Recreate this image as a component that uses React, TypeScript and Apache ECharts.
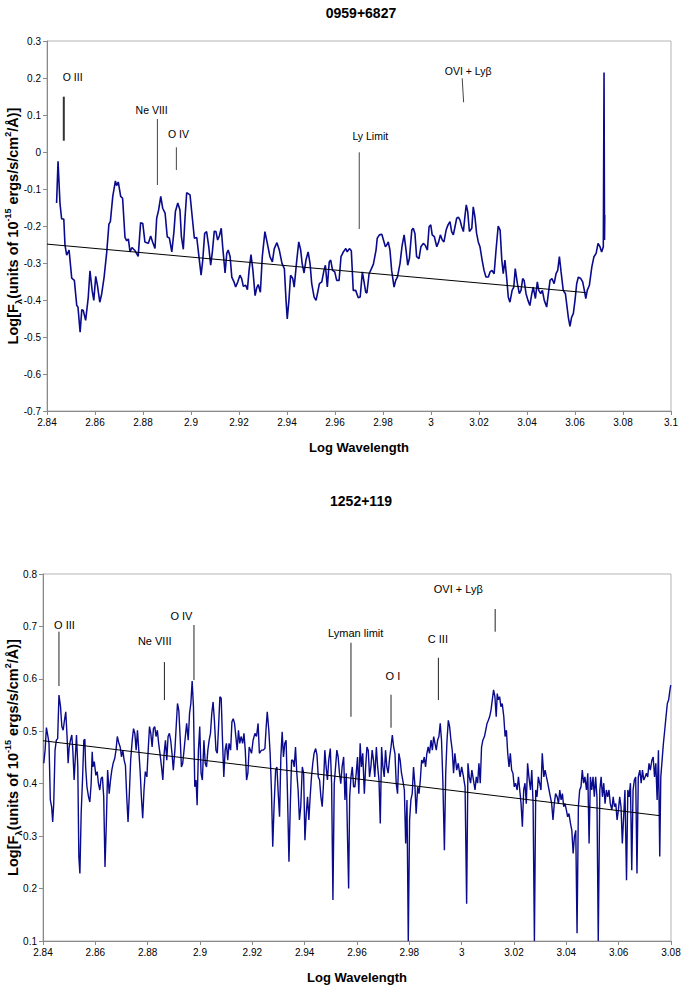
import React, { useEffect, useRef } from "react";
import * as echarts from "echarts";

// ---------- Top panel: 0959+6827 ----------
const topX = [2.8440,2.8446,2.8454,2.8461,2.8470,2.8475,2.8482,2.8492,2.8503,2.8514,2.8524,2.8529,2.8538,2.8545,2.8551,2.8561,2.8572,2.8579,2.8588,2.8595,2.8603,2.8610,2.8620,2.8628,2.8638,2.8649,2.8658,2.8664,2.8674,2.8685,2.8690,2.8697,2.8707,2.8715,2.8725,2.8732,2.8739,2.8746,2.8754,2.8767,2.8780,2.8790,2.8799,2.8808,2.8822,2.8832,2.8840,2.8850,2.8857,2.8865,2.8874,2.8882,2.8892,2.8901,2.8910,2.8920,2.8929,2.8935,2.8945,2.8954,2.8960,2.8968,2.8975,2.8982,2.8996,2.9005,2.9014,2.9024,2.9030,2.9042,2.9049,2.9057,2.9065,2.9074,2.9082,2.9089,2.9097,2.9104,2.9111,2.9118,2.9126,2.9132,2.9142,2.9149,2.9155,2.9163,2.9170,2.9179,2.9186,2.9195,2.9204,2.9211,2.9218,2.9228,2.9235,2.9242,2.9250,2.9258,2.9267,2.9274,2.9280,2.9289,2.9297,2.9308,2.9318,2.9329,2.9339,2.9347,2.9358,2.9368,2.9379,2.9389,2.9396,2.9401,2.9408,2.9415,2.9424,2.9430,2.9440,2.9449,2.9457,2.9463,2.9471,2.9479,2.9488,2.9496,2.9503,2.9513,2.9521,2.9528,2.9535,2.9545,2.9554,2.9560,2.9568,2.9576,2.9582,2.9590,2.9599,2.9607,2.9617,2.9625,2.9635,2.9645,2.9651,2.9660,2.9668,2.9676,2.9686,2.9697,2.9705,2.9714,2.9721,2.9728,2.9733,2.9742,2.9750,2.9760,2.9771,2.9776,2.9785,2.9795,2.9801,2.9810,2.9815,2.9822,2.9829,2.9836,2.9846,2.9853,2.9860,2.9871,2.9879,2.9888,2.9896,2.9903,2.9910,2.9920,2.9926,2.9933,2.9940,2.9950,2.9958,2.9968,2.9976,2.9985,2.9992,2.9999,3.0005,3.0014,3.0024,3.0032,3.0039,3.0047,3.0054,3.0063,3.0071,3.0079,3.0086,3.0093,3.0100,3.0107,3.0114,3.0121,3.0128,3.0135,3.0142,3.0147,3.0153,3.0160,3.0170,3.0176,3.0183,3.0190,3.0197,3.0204,3.0213,3.0221,3.0229,3.0239,3.0246,3.0254,3.0263,3.0271,3.0280,3.0288,3.0295,3.0301,3.0308,3.0315,3.0322,3.0329,3.0338,3.0345,3.0351,3.0360,3.0368,3.0375,3.0382,3.0388,3.0396,3.0404,3.0412,3.0420,3.0426,3.0435,3.0443,3.0449,3.0457,3.0464,3.0472,3.0482,3.0489,3.0496,3.0504,3.0513,3.0521,3.0528,3.0535,3.0542,3.0551,3.0560,3.0567,3.0572,3.0579,3.0586,3.0593,3.0600,3.0607,3.0614,3.0624,3.0632,3.0639,3.0645,3.0651,3.0660,3.0670,3.0679,3.0688,3.0696,3.0704,3.0711,3.0718,3.0721,3.0723,3.0724];
const topY = [-0.138,-0.025,-0.138,-0.181,-0.181,-0.252,-0.279,-0.265,-0.341,-0.347,-0.415,-0.419,-0.487,-0.426,-0.428,-0.455,-0.392,-0.321,-0.374,-0.401,-0.336,-0.360,-0.406,-0.383,-0.338,-0.270,-0.195,-0.188,-0.120,-0.078,-0.091,-0.081,-0.120,-0.125,-0.231,-0.240,-0.235,-0.270,-0.258,-0.267,-0.282,-0.191,-0.193,-0.243,-0.247,-0.227,-0.243,-0.261,-0.179,-0.157,-0.120,-0.152,-0.165,-0.229,-0.233,-0.270,-0.215,-0.161,-0.138,-0.157,-0.229,-0.263,-0.179,-0.110,-0.116,-0.175,-0.233,-0.231,-0.265,-0.333,-0.292,-0.220,-0.215,-0.256,-0.306,-0.270,-0.214,-0.215,-0.238,-0.227,-0.206,-0.256,-0.327,-0.274,-0.265,-0.283,-0.338,-0.351,-0.365,-0.351,-0.333,-0.342,-0.363,-0.360,-0.372,-0.320,-0.277,-0.320,-0.388,-0.367,-0.358,-0.379,-0.283,-0.215,-0.247,-0.283,-0.297,-0.261,-0.245,-0.265,-0.301,-0.315,-0.401,-0.451,-0.401,-0.333,-0.342,-0.365,-0.297,-0.243,-0.265,-0.301,-0.327,-0.292,-0.270,-0.301,-0.356,-0.392,-0.401,-0.379,-0.356,-0.351,-0.320,-0.306,-0.365,-0.297,-0.292,-0.320,-0.324,-0.347,-0.347,-0.283,-0.270,-0.261,-0.270,-0.261,-0.267,-0.374,-0.374,-0.394,-0.392,-0.324,-0.351,-0.379,-0.381,-0.329,-0.318,-0.303,-0.265,-0.233,-0.224,-0.222,-0.236,-0.256,-0.252,-0.243,-0.265,-0.320,-0.365,-0.347,-0.338,-0.301,-0.256,-0.224,-0.265,-0.306,-0.288,-0.211,-0.206,-0.220,-0.283,-0.288,-0.256,-0.247,-0.252,-0.265,-0.202,-0.197,-0.224,-0.229,-0.256,-0.243,-0.224,-0.238,-0.243,-0.211,-0.197,-0.188,-0.215,-0.224,-0.202,-0.179,-0.176,-0.184,-0.202,-0.215,-0.170,-0.143,-0.161,-0.215,-0.206,-0.148,-0.175,-0.220,-0.243,-0.256,-0.292,-0.320,-0.338,-0.338,-0.324,-0.320,-0.329,-0.265,-0.200,-0.211,-0.292,-0.329,-0.292,-0.338,-0.392,-0.406,-0.374,-0.365,-0.315,-0.356,-0.383,-0.374,-0.342,-0.347,-0.383,-0.401,-0.415,-0.383,-0.365,-0.396,-0.351,-0.374,-0.383,-0.374,-0.401,-0.419,-0.383,-0.347,-0.342,-0.356,-0.329,-0.320,-0.283,-0.324,-0.374,-0.383,-0.419,-0.446,-0.471,-0.446,-0.437,-0.401,-0.356,-0.338,-0.342,-0.351,-0.374,-0.396,-0.374,-0.360,-0.311,-0.283,-0.274,-0.247,-0.256,-0.270,-0.256,0.215,-0.238,-0.170];
const topTrendX = [2.84, 3.0645];
const topTrendY = [-0.249, -0.380];

// ---------- Bottom panel: 1252+119 ----------
const botX = [2.8403,2.8408,2.8413,2.8419,2.8423,2.8428,2.8433,2.8437,2.8441,2.8446,2.8451,2.8456,2.8461,2.8467,2.8472,2.8477,2.8482,2.8487,2.8492,2.8496,2.8500,2.8505,2.8510,2.8514,2.8519,2.8523,2.8528,2.8533,2.8537,2.8541,2.8546,2.8551,2.8556,2.8560,2.8563,2.8568,2.8574,2.8579,2.8584,2.8588,2.8591,2.8596,2.8602,2.8607,2.8612,2.8617,2.8622,2.8627,2.8632,2.8637,2.8642,2.8647,2.8653,2.8658,2.8663,2.8668,2.8674,2.8679,2.8684,2.8690,2.8695,2.8700,2.8705,2.8710,2.8715,2.8720,2.8725,2.8730,2.8735,2.8741,2.8746,2.8751,2.8756,2.8761,2.8766,2.8771,2.8776,2.8781,2.8786,2.8791,2.8797,2.8802,2.8807,2.8812,2.8817,2.8822,2.8827,2.8832,2.8837,2.8842,2.8847,2.8853,2.8858,2.8863,2.8868,2.8873,2.8878,2.8883,2.8888,2.8893,2.8898,2.8904,2.8909,2.8914,2.8919,2.8924,2.8929,2.8934,2.8939,2.8944,2.8949,2.8955,2.8960,2.8965,2.8970,2.8975,2.8980,2.8985,2.8989,2.8994,2.8999,2.9004,2.9009,2.9015,2.9020,2.9025,2.9030,2.9035,2.9040,2.9045,2.9050,2.9055,2.9061,2.9066,2.9071,2.9076,2.9081,2.9086,2.9091,2.9096,2.9101,2.9106,2.9111,2.9117,2.9122,2.9127,2.9132,2.9137,2.9142,2.9147,2.9152,2.9157,2.9163,2.9168,2.9173,2.9178,2.9183,2.9188,
2.9197,2.9203,2.9210,2.9216,2.9222,2.9227,2.9235,2.9241,2.9248,2.9253,2.9257,2.9263,2.9268,2.9273,2.9278,2.9283,2.9289,2.9294,2.9299,2.9304,2.9309,2.9314,2.9319,2.9324,2.9329,2.9334,2.9340,2.9345,2.9350,2.9355,2.9360,2.9365,2.9370,2.9375,2.9380,2.9385,2.9391,2.9396,2.9401,2.9406,2.9411,2.9416,2.9421,2.9426,2.9431,2.9436,2.9442,2.9447,2.9452,2.9457,2.9462,2.9467,2.9472,2.9477,2.9482,2.9487,2.9492,2.9498,2.9503,2.9508,2.9513,2.9518,2.9523,2.9528,2.9533,2.9538,2.9543,2.9549,2.9554,2.9559,2.9564,2.9568,2.9572,2.9577,2.9582,2.9587,2.9592,2.9597,2.9602,2.9607,2.9612,2.9617,2.9622,2.9628,2.9633,2.9638,2.9643,2.9648,2.9653,2.9658,2.9663,2.9668,2.9674,2.9679,2.9684,2.9689,2.9694,2.9699,2.9704,2.9709,2.9714,2.9719,2.9725,2.9730,2.9735,2.9740,2.9745,2.9750,2.9755,2.9760,2.9765,2.9770,2.9775,2.9781,2.9786,2.9791,2.9796,2.9801,2.9806,2.9811,2.9816,2.9821,2.9826,2.9832,2.9837,2.9842,2.9847,2.9852,2.9857,2.9862,2.9867,2.9872,2.9877,2.9883,2.9888,2.9893,2.9898,2.9903,2.9908,2.9913,2.9918,2.9923,2.9928,2.9934,2.9939,2.9944,2.9949,2.9954,2.9959,2.9964,2.9969,2.9974,
2.9981,2.9987,2.9994,3.0000,3.0006,3.0013,3.0019,3.0024,3.0029,3.0034,3.0039,3.0045,3.0051,3.0056,3.0061,3.0066,3.0071,3.0076,3.0081,3.0087,3.0092,3.0097,3.0102,3.0107,3.0112,3.0117,3.0122,3.0127,3.0132,3.0136,3.0140,3.0145,3.0150,3.0155,3.0161,3.0166,3.0171,3.0176,3.0181,3.0186,3.0191,3.0196,3.0201,3.0206,3.0212,3.0217,3.0222,3.0227,3.0232,3.0237,3.0242,3.0247,3.0252,3.0257,3.0263,3.0268,3.0273,3.0278,3.0283,3.0288,3.0293,3.0298,3.0303,3.0308,3.0314,3.0319,3.0324,3.0329,3.0334,3.0339,3.0344,3.0349,3.0354,3.0359,3.0365,3.0370,3.0375,3.0380,3.0385,3.0390,3.0395,3.0400,3.0405,3.0410,3.0416,3.0421,3.0426,3.0431,3.0436,3.0441,3.0446,3.0451,3.0456,3.0461,3.0466,3.0471,3.0477,3.0482,3.0487,3.0492,3.0497,3.0502,3.0507,3.0512,3.0517,3.0522,3.0528,3.0533,3.0538,3.0543,3.0548,3.0553,3.0558,3.0563,3.0568,3.0574,3.0579,3.0584,3.0589,3.0594,3.0599,3.0604,3.0609,3.0614,3.0619,3.0624,3.0630,3.0635,3.0640,3.0645,3.0650,3.0655,3.0660,3.0665,3.0670,3.0675,3.0681,3.0686,3.0691,3.0696,3.0701,3.0706,3.0711,3.0716,3.0721,3.0727,3.0732,3.0737,3.0742,3.0747,3.0752,3.0757,3.0761,3.0766,3.0771,3.0776,3.0781,3.0786,3.0791,3.0796,3.0799];
const botY = [0.439,0.464,0.507,0.490,0.477,0.369,0.356,0.327,0.362,0.464,0.483,0.486,0.569,0.547,0.509,0.502,0.521,0.537,0.490,0.439,0.470,0.483,0.493,0.464,0.407,0.445,0.493,0.432,0.261,0.229,0.346,0.407,0.483,0.485,0.432,0.394,0.375,0.365,0.400,0.461,0.432,0.442,0.416,0.423,0.400,0.388,0.410,0.413,0.375,0.241,0.324,0.426,0.381,0.407,0.426,0.439,0.448,0.464,0.490,0.477,0.470,0.451,0.464,0.445,0.435,0.375,0.327,0.381,0.445,0.483,0.505,0.496,0.464,0.502,0.464,0.426,0.375,0.334,0.388,0.423,0.413,0.464,0.509,0.496,0.470,0.505,0.509,0.490,0.502,0.477,0.458,0.432,0.407,0.458,0.483,0.445,0.490,0.496,0.483,0.458,0.426,0.464,0.509,0.553,0.540,0.490,0.432,0.439,0.464,0.490,0.515,0.483,0.534,0.553,0.596,0.547,0.394,0.407,0.359,0.464,0.509,0.420,0.407,0.483,0.439,0.432,0.464,0.483,0.496,0.534,0.556,0.521,0.464,0.458,0.509,0.566,0.563,0.483,0.413,0.464,0.477,0.445,0.477,0.464,0.518,0.524,0.515,0.490,0.464,0.502,0.477,0.490,0.477,0.496,0.464,0.407,0.420,0.470,
0.458,0.483,0.496,0.490,0.515,0.458,0.464,0.464,0.467,0.509,0.537,0.502,0.458,0.388,0.280,0.356,0.426,0.432,0.381,0.337,0.451,0.499,0.451,0.477,0.483,0.388,0.251,0.356,0.445,0.445,0.432,0.470,0.420,0.388,0.331,0.356,0.432,0.420,0.292,0.343,0.375,0.331,0.375,0.413,0.439,0.458,0.467,0.455,0.413,0.407,0.375,0.356,0.400,0.464,0.432,0.407,0.445,0.467,0.400,0.178,0.400,0.432,0.464,0.451,0.420,0.400,0.432,0.451,0.369,0.420,0.292,0.200,0.375,0.413,0.432,0.394,0.394,0.420,0.451,0.381,0.477,0.432,0.458,0.381,0.432,0.470,0.464,0.413,0.432,0.464,0.445,0.413,0.470,0.432,0.407,0.324,0.470,0.432,0.413,0.464,0.432,0.420,0.451,0.470,0.493,0.470,0.458,0.400,0.381,0.458,0.445,0.420,0.407,0.388,0.286,0.369,0.100,0.331,0.369,0.381,0.432,0.400,0.343,0.394,0.381,0.407,0.445,0.439,0.451,0.432,0.458,0.470,0.458,0.483,0.464,0.490,0.477,0.464,0.483,0.490,0.515,0.483,0.407,0.273,0.420,0.483,0.521,0.509,0.483,0.464,0.420,0.458,
0.426,0.439,0.413,0.432,0.416,0.394,0.171,0.439,0.413,0.401,0.426,0.407,0.388,0.413,0.401,0.439,0.401,0.470,0.483,0.490,0.502,0.515,0.521,0.528,0.540,0.560,0.579,0.566,0.528,0.572,0.560,0.566,0.547,0.553,0.528,0.490,0.502,0.458,0.432,0.458,0.426,0.420,0.394,0.401,0.388,0.413,0.388,0.362,0.318,0.388,0.401,0.362,0.439,0.413,0.388,0.426,0.362,0.100,0.388,0.375,0.413,0.401,0.388,0.458,0.413,0.426,0.413,0.401,0.388,0.375,0.362,0.331,0.362,0.381,0.375,0.362,0.388,0.369,0.381,0.356,0.362,0.350,0.337,0.343,0.324,0.311,0.267,0.299,0.311,0.115,0.356,0.388,0.394,0.426,0.401,0.413,0.388,0.420,0.286,0.413,0.388,0.413,0.375,0.413,0.375,0.100,0.388,0.413,0.375,0.401,0.362,0.388,0.375,0.388,0.362,0.350,0.375,0.356,0.362,0.331,0.350,0.375,0.356,0.286,0.337,0.388,0.216,0.388,0.375,0.401,0.235,0.388,0.407,0.413,0.229,0.413,0.426,0.401,0.426,0.407,0.413,0.420,0.413,0.439,0.426,0.445,0.451,0.413,0.439,0.369,0.464,0.261,0.413,0.445,0.477,0.502,0.528,0.553,0.560,0.579,0.588];
const botTrendX = [2.84, 3.0758];
const botTrendY = [0.482, 0.339];

// ---------- Line identifications (label, text x/y, marker x, marker y from/to) ----------
const topLabels = ["O III", "Ne VIII", "O IV", "Ly Limit", "OVI + Lyβ"];
const topTextX = [2.8507, 2.8836, 2.8948, 2.9747, 3.0155];
const topTextY = [0.2027, 0.1135, 0.0486, 0.0441, 0.219];
const topMarkX1 = [2.8470, 2.8860, 2.8939, 2.9701, 3.0130];
const topMarkX2 = [2.8470, 2.8860, 2.8939, 2.9701, 3.0136];
const topMarkY1 = [0.1495, 0.0892, 0.0127, -0.0008, 0.1992];
const topMarkY2 = [0.0305, -0.0892, -0.0486, -0.208, 0.1343];

const botLabels = ["O III", "Ne VIII", "O IV", "Lyman limit", "O I", "C III", "OVI + Lyβ"];
const botTextX = [2.8482, 2.8827, 2.8929, 2.9595, 2.9737, 2.9909, 2.9987];
const botTextY = [0.7027, 0.6727, 0.7198, 0.688, 0.6053, 0.676, 0.7714];
const botMarkX = [2.8461, 2.8864, 2.8977, 2.9577, 2.9730, 2.9911, 3.0128];
const botMarkY1 = [0.690, 0.632, 0.7027, 0.6689, 0.5697, 0.6403, 0.7332];
const botMarkY2 = [0.5863, 0.5595, 0.5977, 0.5277, 0.5067, 0.5595, 0.6899];

const FONT = '"Liberation Sans", Arial, Helvetica, sans-serif';
const AXIS_GREY = "#8a8a8a";
const LINE_BLUE = "#0a0a8c";

const zip = (xs: number[], ys: number[]) => xs.map((x, i) => [x, ys[i]]);

const yName = "{b|Log[F}{s|λ}{b|(units of 10}{p|-15}{b| ergs/s/cm}{p|2}{b|/Å)]}";
const yNameRich = {
  b: { fontSize: 14.5, fontWeight: "bold", fontFamily: FONT, fill: "#000", lineHeight: 20, verticalAlign: "middle" },
  s: { fontSize: 9.5, fontWeight: "bold", fontFamily: FONT, fill: "#000", lineHeight: 20, verticalAlign: "bottom" },
  p: { fontSize: 9, fontWeight: "bold", fontFamily: FONT, fill: "#000", lineHeight: 20, verticalAlign: "top" },
};

function makeXAxis(gridIndex: number, min: number, max: number, gap: number) {
  return {
    type: "value",
    gridIndex,
    min,
    max,
    interval: 0.02,
    name: "Log Wavelength",
    nameLocation: "middle",
    nameGap: gap,
    nameTextStyle: { fontFamily: FONT, fontSize: 13, fontWeight: "bold", color: "#000" },
    axisLine: { show: true, onZero: false, lineStyle: { color: AXIS_GREY, width: 1 } },
    axisTick: { show: true, length: 4, lineStyle: { color: AXIS_GREY } },
    axisLabel: {
      fontFamily: FONT,
      fontSize: 10,
      color: "#000",
      margin: 6,
      formatter: (v: number) => String(+v.toFixed(2)),
    },
    splitLine: { show: false },
  };
}

function makeYAxis(gridIndex: number, min: number, max: number) {
  return {
    type: "value",
    gridIndex,
    min,
    max,
    interval: 0.1,
    axisLine: { show: true, onZero: false, lineStyle: { color: AXIS_GREY, width: 1 } },
    axisTick: { show: true, length: 4, lineStyle: { color: AXIS_GREY } },
    axisLabel: {
      fontFamily: FONT,
      fontSize: 10,
      color: "#000",
      margin: 6,
      formatter: (v: number) => String(+v.toFixed(1)),
    },
    splitLine: { show: false },
  };
}

export default function App() {
  const ref = useRef<HTMLDivElement>(null);

  useEffect(() => {
    if (!ref.current) return;
    const chart = echarts.init(ref.current, null, { renderer: "svg" });
    const option: any = {
      animation: false,
      backgroundColor: "#ffffff",
      title: [
        {
          text: "0959+6827",
          left: 356,
          top: 1,
          textAlign: "center",
          textStyle: { fontFamily: FONT, fontSize: 14, fontWeight: "bold", color: "#000" },
        },
        {
          text: "1252+119",
          left: 356,
          top: 489,
          textAlign: "center",
          textStyle: { fontFamily: FONT, fontSize: 14, fontWeight: "bold", color: "#000" },
        },
      ],
      grid: [
        { left: 47, right: 10, top: 41, height: 370, outerBoundsMode: "none", containLabel: false, show: true, borderColor: "#b4b4b4", borderWidth: 1, backgroundColor: "transparent" },
        { left: 43, right: 10, top: 574, height: 367, outerBoundsMode: "none", containLabel: false, show: true, borderColor: "#b4b4b4", borderWidth: 1, backgroundColor: "transparent" },
      ],
      xAxis: [makeXAxis(0, 2.84, 3.1, 30), makeXAxis(1, 2.84, 3.08, 30)],
      yAxis: [makeYAxis(0, -0.7, 0.3), makeYAxis(1, 0.1, 0.8)],
      series: [
        {
          type: "line",
          xAxisIndex: 0,
          yAxisIndex: 0,
          data: zip(topX, topY),
          showSymbol: false,
          symbol: "none",
          lineStyle: { color: LINE_BLUE, width: 1.6 },
          z: 3,
        },
        {
          type: "line",
          xAxisIndex: 0,
          yAxisIndex: 0,
          data: zip(topTrendX, topTrendY),
          symbol: "none",
          lineStyle: { color: "#000", width: 1 },
          z: 4,
        },
        {
          type: "line",
          xAxisIndex: 1,
          yAxisIndex: 1,
          data: zip(botX, botY),
          showSymbol: false,
          symbol: "none",
          lineStyle: { color: LINE_BLUE, width: 1.4 },
          z: 3,
        },
        {
          type: "line",
          xAxisIndex: 1,
          yAxisIndex: 1,
          data: zip(botTrendX, botTrendY),
          symbol: "none",
          lineStyle: { color: "#000", width: 1 },
          z: 4,
        },
      ],
    };
    chart.setOption(option);

    const graphics: any[] = [];
    const px = (g: number, x: number, y: number) => chart.convertToPixel({ gridIndex: g } as any, [x, y]) as number[];

    // rotated y-axis titles, centred on each plot area
    [0, 1].forEach((g) => {
      const rect = (chart as any).getModel().getComponent("grid", g).coordinateSystem.getRect();
      graphics.push({
        type: "text",
        x: 13,
        y: rect.y + rect.height / 2,
        rotation: Math.PI / 2,
        style: { text: yName, rich: yNameRich, align: "center", verticalAlign: "middle" },
        z: 10,
      });
    });

    topLabels.forEach((lab, i) => {
      const t = px(0, topTextX[i], topTextY[i]);
      graphics.push({
        type: "text",
        x: t[0],
        y: t[1],
        style: { text: lab, fontFamily: FONT, fontSize: 10.5, fill: "#000", align: "center", verticalAlign: "middle" },
        z: 10,
      });
      const a = px(0, topMarkX1[i], topMarkY1[i]);
      const b = px(0, topMarkX2[i], topMarkY2[i]);
      graphics.push({
        type: "line",
        shape: { x1: a[0], y1: a[1], x2: b[0], y2: b[1] },
        style: { stroke: i === 0 ? "#333" : "#444", lineWidth: i === 0 ? 2 : 1 },
        z: 10,
      });
    });
    botLabels.forEach((lab, i) => {
      const t = px(1, botTextX[i], botTextY[i]);
      graphics.push({
        type: "text",
        x: t[0],
        y: t[1],
        style: { text: lab, fontFamily: FONT, fontSize: 11, fill: "#000", align: "center", verticalAlign: "middle" },
        z: 10,
      });
      const a = px(1, botMarkX[i], botMarkY1[i]);
      const b = px(1, botMarkX[i], botMarkY2[i]);
      graphics.push({
        type: "line",
        shape: { x1: a[0], y1: a[1], x2: b[0], y2: b[1] },
        style: { stroke: "#222", lineWidth: 1 },
        z: 10,
      });
    });
    chart.setOption({ graphic: graphics });

    return () => chart.dispose();
  }, []);

  return (
    <div
      ref={ref}
      style={{ position: "fixed", left: 0, top: 0, width: 681, height: 985, background: "#fff" }}
    />
  );
}
